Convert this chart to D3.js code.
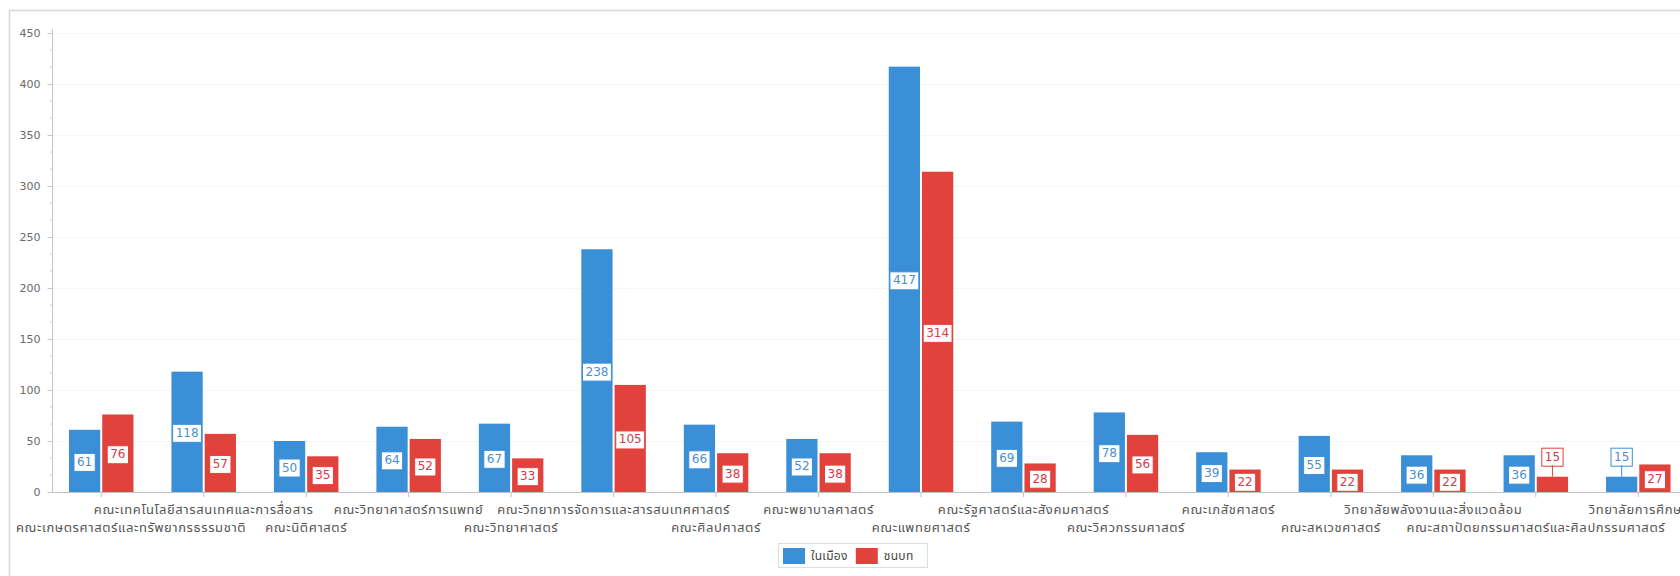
<!DOCTYPE html>
<html>
<head>
<meta charset="utf-8">
<script src="https://cdn.jsdelivr.net/npm/d3@7"></script>
<style>
  html, body { margin: 0; padding: 0; background: #ffffff; overflow: hidden; }
  svg { display: block; }
  text { font-family: "Noto Sans Thai", Tahoma, "DejaVu Sans", "Noto Sans", sans-serif; }
</style>
</head>
<body>
<svg id="chart" width="1680" height="576"></svg>
<script>
// ---- data ----
const categories = [
  "คณะเกษตรศาสตร์และทรัพยากรธรรมชาติ",
  "คณะเทคโนโลยีสารสนเทศและการสื่อสาร",
  "คณะนิติศาสตร์",
  "คณะวิทยาศาสตร์การแพทย์",
  "คณะวิทยาศาสตร์",
  "คณะวิทยาการจัดการและสารสนเทศศาสตร์",
  "คณะศิลปศาสตร์",
  "คณะพยาบาลศาสตร์",
  "คณะแพทยศาสตร์",
  "คณะรัฐศาสตร์และสังคมศาสตร์",
  "คณะวิศวกรรมศาสตร์",
  "คณะเภสัชศาสตร์",
  "คณะสหเวชศาสตร์",
  "วิทยาลัยพลังงานและสิ่งแวดล้อม",
  "คณะสถาปัตยกรรมศาสตร์และศิลปกรรมศาสตร์",
  "วิทยาลัยการศึกษา"
];
const urbanValues = [61, 118, 50, 64, 67, 238, 66, 52, 417, 69, 78, 39, 55, 36, 36, 15];
const ruralValues = [76, 57, 35, 52, 33, 105, 38, 38, 314, 28, 56, 22, 22, 22, 15, 27];
const seriesNames = ["ในเมือง", "ชนบท"];
const yTicks = [0, 50, 100, 150, 200, 250, 300, 350, 400, 450];

const colors = ["#3a8fd6", "#e2423c"];
const textColors = ["#4a8fd0", "#d9394a"];

const svg = d3.select("#chart");
const W = 1680, H = 576;

// frame
svg.append("path")
  .attr("d", `M9.5,${H} L9.5,10.5 L${W},10.5`)
  .attr("fill", "none").attr("stroke", "#d6d6e0").attr("stroke-width", 1.5);

const x0 = 50, step = 102.47;
const x = d3.scaleBand().domain(categories).range([x0, x0 + step * categories.length]).padding(0);
const y = d3.scaleLinear().domain([0, 450]).range([492, 33]);

const g = svg.append("g");

// gridlines
g.append("g").selectAll("line").data(yTicks.filter(d => d > 0)).join("line")
  .attr("x1", 53).attr("x2", W).attr("y1", d => Math.round(y(d)) + 0.5).attr("y2", d => Math.round(y(d)) + 0.5)
  .attr("stroke", "#f6f6f8").attr("stroke-width", 1);

// y axis
const yAxis = d3.axisLeft(y).tickValues(yTicks).tickSize(5).tickPadding(7);
const ya = g.append("g").attr("transform", "translate(52.5,0)").call(yAxis);
ya.select(".domain").attr("stroke", "#c8c8cc").attr("d", `M0,${y(450)-4}V${y(0)}`);
ya.selectAll(".tick line").attr("stroke", "#c8c8cc");
ya.selectAll(".tick text").attr("fill", "#6a6a6a")
  .style("font-family", "'DejaVu Sans', sans-serif").attr("font-size", 11);
// minor ticks
const minor = d3.range(0, 451, 50 / 3).filter(v => Math.abs(v % 50) > 1 && Math.abs(v % 50 - 50) > 1);
g.append("g").selectAll("line").data(minor).join("line")
  .attr("x1", 50).attr("x2", 53).attr("y1", d => y(d)).attr("y2", d => y(d))
  .attr("stroke", "#d0d0d4");

// x axis line
g.append("line").attr("x1", 52).attr("x2", W).attr("y1", 492.5).attr("y2", 492.5)
  .attr("stroke", "#c0c0c6").attr("stroke-width", 1);
// x ticks at group centers
g.append("g").selectAll("line").data(categories).join("line")
  .attr("x1", d => x(d) + x.bandwidth() / 2).attr("x2", d => x(d) + x.bandwidth() / 2)
  .attr("y1", 492).attr("y2", 497).attr("stroke", "#c0c0c6");

// bars
const barW = step * 0.305, gap = 2;
const seriesVals = [urbanValues, ruralValues];
const barData = [];
categories.forEach((c, i) => {
  seriesVals.forEach((vals, s) => {
    const cx = x(c) + x.bandwidth() / 2;
    const bx = s === 0 ? cx - gap / 2 - barW : cx + gap / 2;
    barData.push({ c, s, v: vals[i], bx });
  });
});

g.append("g").selectAll("rect").data(barData).join("rect")
  .attr("x", d => d.bx).attr("width", barW)
  .attr("y", d => y(d.v)).attr("height", d => y(0) - y(d.v))
  .attr("fill", d => colors[d.s]);

// data labels
const lg = g.append("g");
barData.forEach(d => {
  const cx = d.bx + barW / 2;
  const top = y(d.v), bottom = y(0);
  const hgt = bottom - top;
  const grp = lg.append("g");
  const t = grp.append("text").text(d.v)
    .attr("font-size", 12).attr("fill", textColors[d.s])
    .style("font-family", "'DejaVu Sans', sans-serif")
    .attr("text-anchor", "middle").attr("dominant-baseline", "central");
  const tw = t.node().getComputedTextLength();
  const bw = tw + 6, bh = 17;
  let cy;
  if (hgt >= bh + 4) {
    cy = (top + bottom) / 2;
  } else {
    cy = top - 21;
    grp.append("line").attr("x1", cx).attr("x2", cx).attr("y1", cy + bh / 2 + 1).attr("y2", top)
      .attr("stroke", colors[d.s]).attr("stroke-width", 1);
  }
  grp.insert("rect", "text")
    .attr("x", cx - bw / 2).attr("y", cy - bh / 2 + 1).attr("width", bw).attr("height", bh + 1)
    .attr("fill", "#ffffff").attr("stroke", colors[d.s]).attr("stroke-width", 1);
  t.attr("x", cx).attr("y", cy + 1);
});

// category labels, alternating rows
const cl = g.append("g");
categories.forEach((c, i) => {
  const cx = x(c) + x.bandwidth() / 2;
  const row = i % 2 === 0 ? 1 : 0;
  const t = cl.append("text").text(c)
    .attr("font-size", 13).attr("letter-spacing", 0.6).attr("fill", "#555555")
    .attr("text-anchor", "middle").attr("dominant-baseline", "central")
    .attr("x", cx).attr("y", 510 + row * 18);
  const tw = t.node().getComputedTextLength();
  if (cx - tw / 2 < 16) {
    t.attr("text-anchor", "start").attr("x", 16);
  }
});

// legend
const leg = svg.append("g");
leg.append("rect").attr("x", 778.5).attr("y", 543.5).attr("width", 149).attr("height", 24)
  .attr("fill", "#ffffff").attr("stroke", "#dcdce2");
let lx = 783;
seriesNames.forEach((n, s) => {
  leg.append("rect").attr("x", lx).attr("y", 548).attr("width", 22).attr("height", 16)
    .attr("fill", colors[s]);
  const t = leg.append("text").text(n).attr("x", lx + 28).attr("y", 556)
    .attr("dominant-baseline", "central").attr("font-size", 12).attr("letter-spacing", 0.3).attr("fill", "#444");
  lx = lx + 28 + t.node().getComputedTextLength() + 8;
});
</script>
</body>
</html>
